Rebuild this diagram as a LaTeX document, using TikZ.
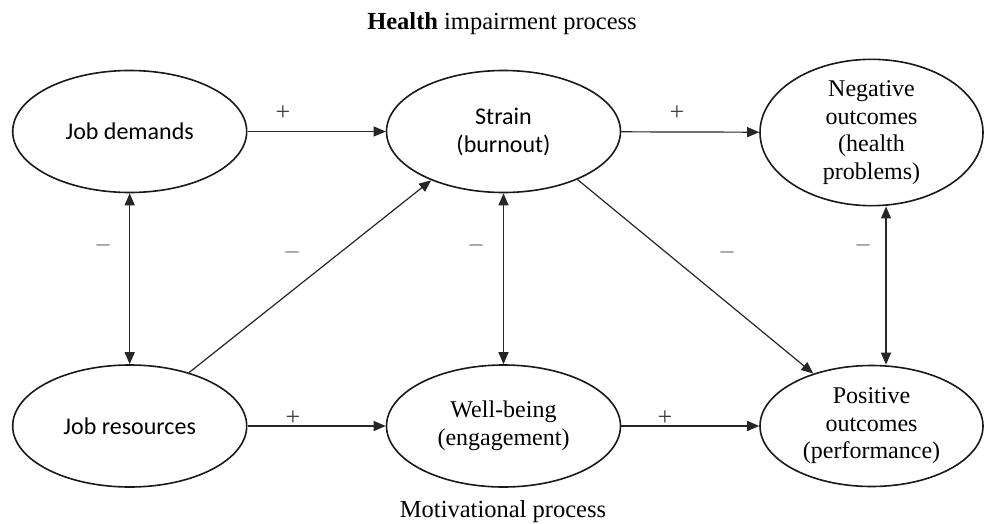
\documentclass[tikz,border=0pt]{standalone}
\usepackage{fontspec}
\setmainfont{Liberation Serif}
\newfontfamily\carlitofont{Carlito}
\usetikzlibrary{shapes.geometric,arrows.meta}
\begin{document}
\begin{tikzpicture}[x=1pt,y=-1pt,
  box/.style={ellipse, draw=black!90, line width=1.6pt, inner sep=0pt,
    minimum width=234pt, minimum height=122pt, align=center,
    font=\fontsize{24}{27.5}\selectfont},
  nbox/.style={box, minimum width=223pt, minimum height=121pt},
  sbox/.style={box, font=\carlitofont\fontsize{24}{28}\selectfont},
  tip/.tip={Triangle[length=12pt,width=10pt]},
  arr/.style={-tip, line width=1.2pt, draw=black!85},
  darr/.style={tip-tip, line width=1.2pt, draw=black!85},
  plus/.style={font=\fontsize{26}{26}\selectfont, text=black!75, inner sep=0pt},
  minus/.style={font=\fontsize{26}{26}\selectfont, text=black!50, inner sep=0pt},
  title/.style={font=\fontsize{24.5}{28}\selectfont, anchor=base, inner sep=0pt}]
\useasboundingbox[fill=white] (0,0) rectangle (984,524);

\node[title] (t1) at (502,30) {\textbf{Health} impairment process};
\node[title] (t2) at (503,517) {Motivational process};

\node[sbox] (jd) at (129.7,131.5) {Job demands};
\node[sbox] (st) at (503.5,131.5) {Strain\\(burnout)};
\node[nbox] (neg) at (871.5,132.5) {Negative\\outcomes\\(health\\problems)};
\node[sbox] (jr) at (129.7,426) {Job resources};
\node[box] (wb) at (503.5,426) {Well-being\\(engagement)};
\node[nbox] (pos) at (871.5,426) {Positive\\outcomes\\(performance)};

\coordinate (vx) at (886,0);

\draw[arr] (jd) -- (st);
\draw[arr] (st) -- (neg);
\draw[arr] (jr) -- (wb);
\draw[arr] (wb) -- (pos);
\draw[darr] (jd) -- (jr);
\draw[darr] (st) -- (wb);
\draw[darr] (vx |- neg.south) -- (vx |- pos.north);
\draw[arr] (jr.42) -- (st.214);
\draw[arr] (st.-33) -- (pos.138);

\node[plus] (p1) at (283,113) {+};
\node[plus] (p2) at (677,113) {+};
\node[plus] (p3) at (293,418) {+};
\node[plus] (p4) at (665,418) {+};

\node[minus] (m1) at (103,248) {–};
\node[minus] (m2) at (292,255) {–};
\node[minus] (m3) at (476,248) {–};
\node[minus] (m4) at (727,255) {–};
\node[minus] (m5) at (863,248) {–};
\end{tikzpicture}
\end{document}
